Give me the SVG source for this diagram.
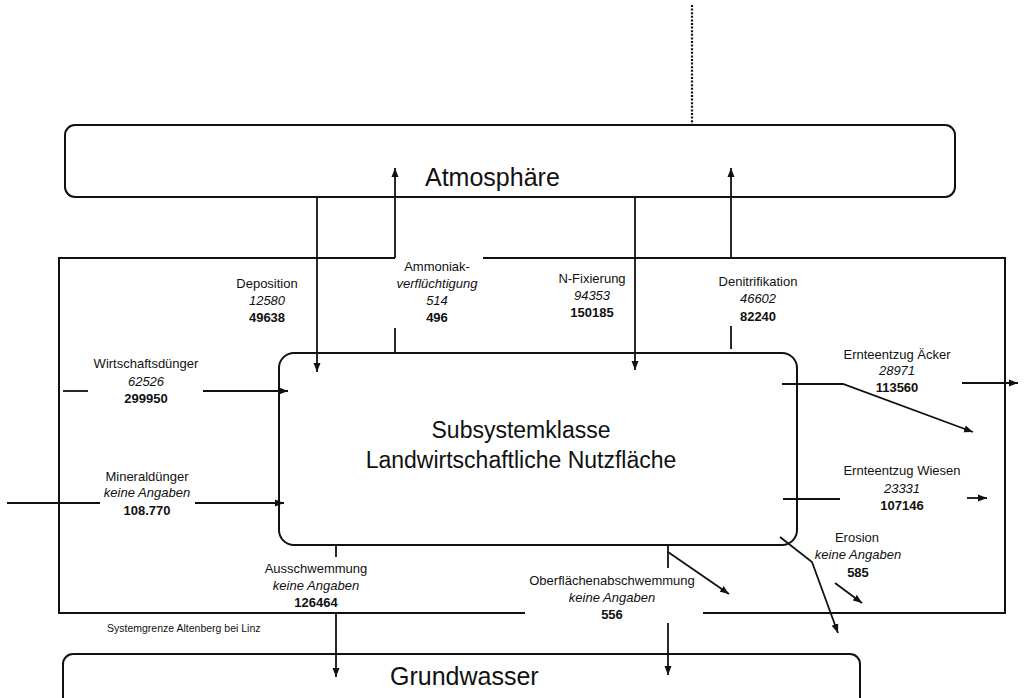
<svg xmlns="http://www.w3.org/2000/svg" width="1029" height="698" viewBox="0 0 1029 698">
<style>
text{font-family:"Liberation Sans",Arial,sans-serif;fill:#111;}
.lb{font-size:13px;text-anchor:middle;}
.it{font-style:italic;}
.bd{font-weight:bold;}
.big{font-size:25px;}
.mid{font-size:23px;text-anchor:middle;}
.box{fill:none;stroke:#111;stroke-width:2;}
.ln{fill:none;stroke:#111;stroke-width:1.8;}
.ar{fill:none;stroke:#111;stroke-width:1.8;marker-end:url(#ah);}
</style>
<defs>
<marker id="ah" markerUnits="userSpaceOnUse" markerWidth="10" markerHeight="8" refX="9" refY="4" orient="auto">
<path d="M0,0.5 L9,4 L0,7.5 Z" fill="#111"/>
</marker>
</defs>
<rect width="1029" height="698" fill="#fff"/>

<g id="atmosphaere">
<rect class="box" x="65" y="125" width="890" height="72" rx="10"/>
<text class="big" x="425" y="186">Atmosphäre</text>
</g>
<g id="grundwasser">
<rect class="box" x="63" y="654" width="797" height="70" rx="10"/>
<text class="big" x="390" y="685">Grundwasser</text>
</g>
<g id="systemgrenze">
<path class="box" d="M395,258 H59 V613 H525 M703,613 H1005 V258 H483"/>
<text x="107" y="632" style="font-size:10.5px">Systemgrenze Altenberg bei Linz</text>
</g>
<g id="subsystem">
<rect class="box" x="279" y="353" width="518" height="192" rx="15"/>
<text class="mid" x="521" y="438">Subsystemklasse</text>
<text class="mid" x="521" y="468">Landwirtschaftliche Nutzfläche</text>
</g>

<g id="labels">
<text class="lb" x="267" y="288">Deposition</text>
<text class="lb it" x="267" y="305">12580</text>
<text class="lb bd" x="267" y="322">49638</text>

<text class="lb" x="437" y="271">Ammoniak-</text>
<text class="lb it" x="437" y="288">verflüchtigung</text>
<text class="lb it" x="437" y="305">514</text>
<text class="lb bd" x="437" y="322">496</text>

<text class="lb" x="592" y="283">N-Fixierung</text>
<text class="lb it" x="592" y="300">94353</text>
<text class="lb bd" x="592" y="317">150185</text>

<text class="lb" x="758" y="286">Denitrifikation</text>
<text class="lb it" x="758" y="303">46602</text>
<text class="lb bd" x="758" y="321">82240</text>

<text class="lb" x="146" y="368">Wirtschaftsdünger</text>
<text class="lb it" x="146" y="386">62526</text>
<text class="lb bd" x="146" y="403">299950</text>

<text class="lb" x="147" y="481">Mineraldünger</text>
<text class="lb it" x="147" y="497">keine Angaben</text>
<text class="lb bd" x="147" y="515">108.770</text>

<text class="lb" x="316" y="573">Ausschwemmung</text>
<text class="lb it" x="316" y="590">keine Angaben</text>
<text class="lb bd" x="316" y="607">126464</text>

<text class="lb" x="612" y="585">Oberflächenabschwemmung</text>
<text class="lb it" x="612" y="602">keine Angaben</text>
<text class="lb bd" x="612" y="619">556</text>

<text class="lb" x="897" y="359">Ernteentzug Äcker</text>
<text class="lb it" x="897" y="375">28971</text>
<text class="lb bd" x="897" y="392">113560</text>

<text class="lb" x="902" y="475">Ernteentzug Wiesen</text>
<text class="lb it" x="902" y="493">23331</text>
<text class="lb bd" x="902" y="510">107146</text>

<text class="lb" x="857" y="542">Erosion</text>
<text class="lb it" x="858" y="559">keine Angaben</text>
<text class="lb bd" x="858" y="577">585</text>
</g>

<g id="connectors">
<line x1="692" y1="5" x2="692" y2="125" stroke="#111" stroke-width="2.2" stroke-dasharray="2 1.6"/>
<line class="ar" x1="317" y1="197" x2="317" y2="372"/>
<line class="ar" x1="395" y1="258" x2="395" y2="168"/>
<line class="ln" x1="395" y1="328" x2="395" y2="353"/>
<line class="ar" x1="635" y1="197" x2="635" y2="370"/>
<line class="ar" x1="731" y1="258" x2="731" y2="168"/>
<line class="ln" x1="731" y1="326" x2="731" y2="349"/>
<line class="ln" x1="63" y1="391" x2="88" y2="391"/>
<line class="ar" x1="203" y1="391" x2="288" y2="391"/>
<line class="ln" x1="7" y1="503" x2="100" y2="503"/>
<line class="ar" x1="195" y1="503" x2="284" y2="503"/>
<line class="ln" x1="336" y1="545" x2="336" y2="557"/>
<line class="ar" x1="336" y1="613" x2="336" y2="677"/>
<line class="ln" x1="668" y1="545" x2="668" y2="568"/>
<polyline class="ar" points="668,552 729,594"/>
<line class="ar" x1="668" y1="623" x2="668" y2="675"/>
<polyline class="ar" points="782,384 843,384 973,432"/>
<line class="ar" x1="962" y1="383" x2="1018" y2="383"/>
<line class="ln" x1="783" y1="499" x2="840" y2="499"/>
<line class="ar" x1="967" y1="498" x2="987" y2="498"/>
<polyline class="ar" points="780,537 812,562 838,633"/>
<line class="ar" x1="835" y1="583" x2="862" y2="603"/>
</g>
</svg>
